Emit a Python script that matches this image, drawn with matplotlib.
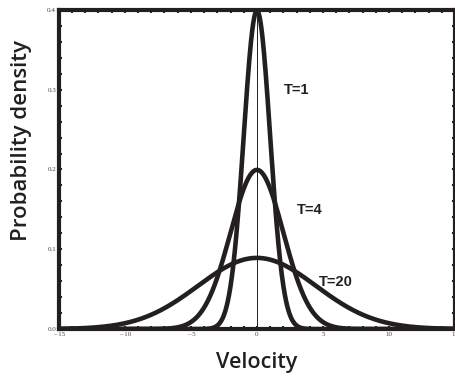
import matplotlib
matplotlib.use("Agg")
import matplotlib.pyplot as plt
from matplotlib.ticker import MultipleLocator
import numpy as np

# temperatures of the three curves and where their labels sit
temps = [1, 4, 20]
labels = ["T=1", "T=4", "T=20"]
label_x = [3.0, 4.0, 6.0]
label_y = [0.30, 0.149, 0.059]

x_ticks = [-15, -10, -5, 0, 5, 10, 15]
y_ticks = [0.0, 0.1, 0.2, 0.3, 0.4]

fig = plt.figure(figsize=(4.56, 3.8), dpi=100)
ax = fig.add_axes([0.129, 0.134, 0.869, 0.84])

v = np.linspace(-15, 15, 1201)
for T in temps:
    # Maxwell velocity distribution in one dimension, variance T
    p = np.exp(-v**2 / (2 * T)) / np.sqrt(2 * np.pi * T)
    ax.plot(v, p, color="#231f20", lw=3.3, solid_capstyle="round")

ax.axvline(0, color="#231f20", lw=0.7)

for lab, lx, ly in zip(labels, label_x, label_y):
    ax.text(lx, ly, lab, fontsize=10.5, fontweight="bold", family="Liberation Sans",
            ha="center", va="center", color="#231f20")

ax.set_xlim(-15, 15)
ax.set_ylim(0, 0.4)
ax.set_xticks(x_ticks)
ax.set_xticklabels(["\u2013 15", "\u2013 10", "\u2013 5", "0", "5", "10", "15"])
ax.set_yticks(y_ticks)
ax.set_yticklabels(["0.0", "0.1", "0.2", "0.3", "0.4"])
ax.xaxis.set_minor_locator(MultipleLocator(1))
ax.yaxis.set_minor_locator(MultipleLocator(0.02))
ax.tick_params(which="both", direction="in", length=2.5, width=1.5, color="#231f20",
               top=True, right=True, labelsize=5, pad=2, labelcolor="#444444")
for lab in ax.get_xticklabels() + ax.get_yticklabels():
    lab.set_family("Liberation Serif")
for s in ax.spines.values():
    s.set_linewidth(3)
    s.set_color("#231f20")

ax.set_xlabel("Velocity", fontsize=15.5, fontweight="semibold", family="Open Sans",
              color="#231f20", labelpad=11)
ax.set_ylabel("Probability density", fontsize=16, fontweight="semibold", family="Open Sans",
              color="#231f20")
ax.yaxis.set_label_coords(-0.068, 0.59)

fig.savefig("out.png", dpi=100)
